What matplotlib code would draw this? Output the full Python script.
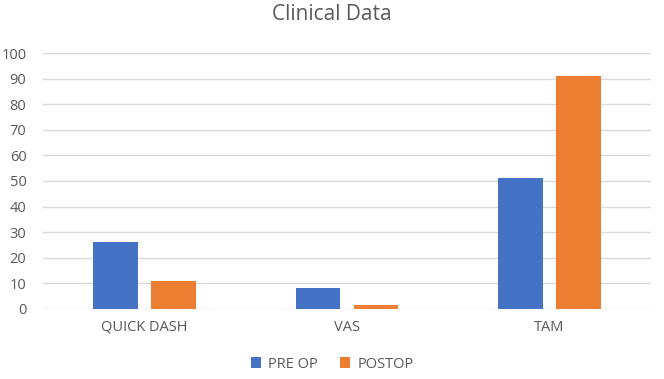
import numpy as np
import matplotlib.pyplot as plt

categories = ['QUICK DASH', 'VAS', 'TAM']
pre_op = [26, 8, 51]
post_op = [11, 1.5, 91]
series_names = ['PRE OP', 'POSTOP']

plt.rcParams['font.family'] = ['Open Sans', 'DejaVu Sans']
text_color = '#595959'

fig = plt.figure(figsize=(6.64, 3.79), dpi=100)
ax = fig.add_axes([0.065, 0.185, 0.915, 0.675])

x = np.arange(len(categories))
w = 0.22
gap = 0.065
ax.bar(x - (w + gap) / 2, pre_op, w, color='#4472C4', label=series_names[0], zorder=3)
ax.bar(x + (w + gap) / 2, post_op, w, color='#ED7D31', label=series_names[1], zorder=3)

ax.set_xlim(-0.5, 2.5)
ax.set_ylim(0, 100)
ax.set_yticks(range(0, 101, 10))
ax.set_xticks(x)
ax.set_xticklabels(categories)
ax.tick_params(axis='both', length=0, colors=text_color, labelsize=10.5)
ax.tick_params(axis='x', pad=8)
ax.tick_params(axis='y', pad=12)
ax.grid(axis='y', color='#D9D9D9', linewidth=1, zorder=0)
for s in ax.spines.values():
    s.set_visible(False)

fig.suptitle('Clinical Data', fontsize=15, color=text_color, y=0.99)
fig.legend(loc='lower center', ncol=2, frameon=False, fontsize=10.5,
           labelcolor=text_color, handlelength=0.7, handleheight=0.7,
           columnspacing=1.5, handletextpad=0.5, bbox_to_anchor=(0.5, -0.015))

fig.savefig('out.png', dpi=100)
